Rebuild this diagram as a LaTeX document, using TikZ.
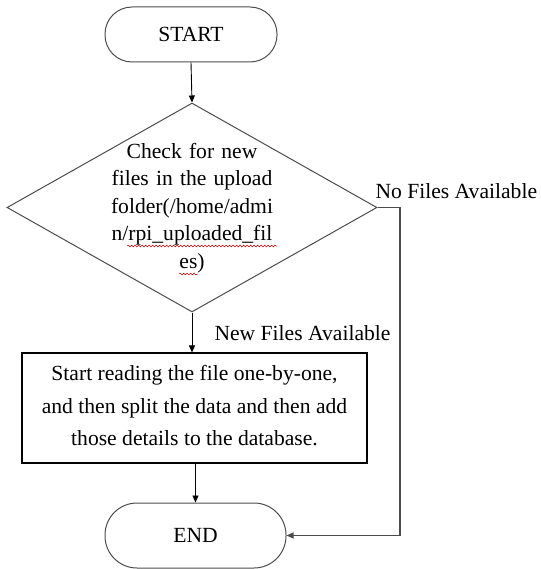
\documentclass[tikz,border=0pt]{standalone}
\usepackage{fontspec}
\setmainfont{Liberation Serif}
\usetikzlibrary{arrows.meta,shapes.geometric,decorations.pathmorphing}

\begin{document}
\begin{tikzpicture}[x=1pt,y=-1pt,
  every node/.style={font=\fontsize{21.6}{27.5}\selectfont},
  terminal/.style={draw=black!70, line width=1pt, rectangle, rounded corners=27pt,
                   inner sep=0pt},
  decision/.style={draw=black!70, line width=1pt, diamond, inner sep=0pt},
  process/.style={draw=black, line width=1.1pt, rectangle, inner sep=0pt},
  flow/.style={draw=black, line width=0.9pt, -{Triangle[length=7pt,width=6pt]}},
  squiggle/.style={draw=red!80!black, line width=0.5pt,
                   decorate, decoration={snake, amplitude=0.9pt, segment length=3.5pt}}]

  \useasboundingbox (0,0) rectangle (540,569);

  % terminals, decision and process
  \node[terminal, minimum width=172pt, minimum height=55pt] (start) at (191,34.5) {START};
  \node[decision, minimum width=370pt, minimum height=209pt] (check) at (192,207.5) {};
  \node[align=center, text width=180pt] (checktext) at (192,208)
    {Check for new\\files in the upload\\folder(/home/admi\\n/rpi\_uploaded\_fil\\es)};
  \node[process, minimum width=345pt, minimum height=110pt] (proc) at (194.5,408) {};
  \node[align=center, font=\fontsize{21.6}{32.5}\selectfont] (proctext) at (194.5,406)
    {Start reading the file one-by-one,\\and then split the data and then add\\those details to the database.};
  \node[terminal, rounded corners=32pt, minimum width=181pt, minimum height=65pt] (end) at (195.5,535.5) {END};

  % spell-check underlines
  \coordinate (u1a) at (127,246);
  \coordinate (u1b) at (277,246);
  \coordinate (u2a) at (179,274);
  \coordinate (u2b) at (198,274);
  \draw[squiggle] (u1a) -- (u1b);
  \draw[squiggle] (u2a) -- (u2b);

  % connectors
  \draw[flow] (start.south) -- (check.north);
  \draw[flow] (check.south) -- (check.south |- proc.north);
  \draw[flow] (proc.south -| end.north) -- (end.north);
  \coordinate (corner) at (400,207.5);
  \draw[draw=black!70, line width=1.2pt, -{Triangle[length=7pt,width=6pt]}]
    (check.east) -- (corner) |- (end.east);

  % branch labels
  \node[anchor=west] (nofiles) at (372,191) {No Files Available};
  \node[anchor=west] (newfiles) at (211,333) {New Files Available};
\end{tikzpicture}
\end{document}
